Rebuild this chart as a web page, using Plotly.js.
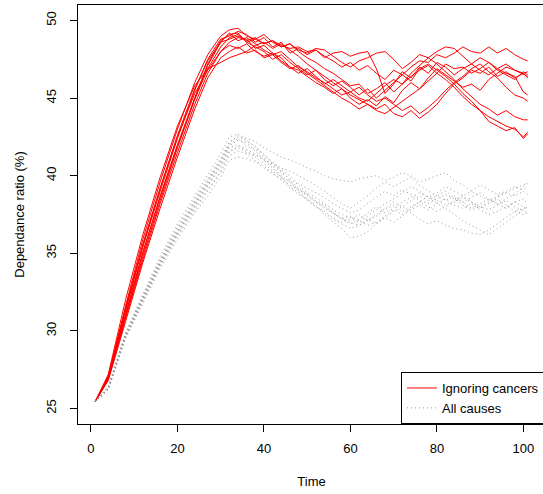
<!DOCTYPE html>
<html><head><meta charset="utf-8">
<script src="https://cdn.plot.ly/plotly-3.0.1.min.js"></script>
<style>html,body{margin:0;padding:0;overflow:hidden;background:#fff}#chart{width:545px;height:494px}</style>
</head><body><div id="chart"></div>
<script>
const time = [1,4,8,12,16,20,24,27,30,32,34,36,38,40,42,44,46,48,50,52,54,56,58,60,62,64,66,68,70,72,74,76,78,80,82,84,86,88,90,92,94,96,98,100,101];

// Ignoring cancers (red, solid)
const ignoring1 = [25.45,27.0,31.6,35.9,39.6,43.0,46.0,47.8,49.0, 49.4,49.5,49.0,48.8,49.1,48.6,48.3,48.5,48.0,47.6,47.3,46.9,46.6,46.2,45.8,45.9,45.3,45.6,46.0,45.4,45.9,46.4,46.8,47.1,46.6,47.2,46.9,47.0,46.6,46.9,47.3,46.8,46.5,46.2,46.7,46.5];
const ignoring2 = [25.45,27.1,31.4,35.5,39.2,42.6,45.6,47.4,48.6, 48.8,49.0,48.7,48.9,48.5,48.7,48.4,48.2,48.3,48.0,48.1,47.7,47.4,47.0,47.3,46.8,47.1,46.6,46.2,46.8,46.5,47.0,47.4,47.3,47.8,47.6,47.9,48.3,48.0,47.9,48.3,47.9,48.2,47.8,47.5,47.4];
const ignoring3 = [25.45,27.2,32.0,36.2,39.9,43.2,45.8,46.9,47.3, 47.6,47.8,48.0,48.4,48.6,48.2,48.5,48.1,47.7,47.2,46.8,46.4,46.0,45.6,45.2,44.9,44.6,44.3,44.6,44.0,43.8,44.2,43.7,44.1,44.6,45.3,45.9,46.3,46.8,46.6,47.0,46.4,46.7,46.3,46.6,46.7];
const ignoring4 = [25.45,26.9,31.0,35.0,38.7,42.0,45.0,47.2,48.7, 49.1,49.2,48.6,48.3,48.0,47.5,47.8,47.3,46.9,46.5,46.8,46.2,45.8,46.1,45.7,45.2,45.6,45.0,45.5,46.0,46.5,46.1,46.9,47.2,46.8,46.4,45.9,45.3,44.8,44.2,43.8,43.5,43.2,43.0,42.5,42.8];
const ignoring5 = [25.45,27.0,31.3,35.4,39.0,42.4,45.5,47.5,48.8, 49.0,49.3,49.1,48.6,48.9,48.3,48.6,47.9,48.2,47.8,48.1,47.6,47.9,48.0,47.7,47.9,48.0,46.9,45.3,45.9,46.7,46.3,47.0,46.6,47.3,47.0,46.5,46.9,47.2,46.8,46.5,46.9,46.6,46.4,45.4,45.2];
const ignoring6 = [25.45,26.9,30.8,34.6,38.2,41.5,44.6,46.6,48.0, 48.6,48.9,48.8,48.2,48.4,47.9,47.6,47.0,46.8,46.4,46.0,45.7,45.3,45.6,45.0,44.6,44.9,44.5,45.1,44.7,45.5,46.0,45.6,46.3,46.9,46.5,46.1,45.7,45.9,45.5,46.2,46.6,47.0,46.8,46.6,46.3];
const ignoring7 = [25.45,27.0,31.1,35.1,38.6,41.9,45.0,47.1,48.6, 49.2,48.7,48.9,48.5,48.1,47.8,48.0,47.5,47.0,46.7,46.3,46.0,45.6,45.2,45.4,45.0,44.8,45.3,45.8,46.2,45.9,46.6,47.1,47.6,47.2,46.7,46.2,45.6,45.1,44.6,44.3,43.9,44.2,43.8,43.6,43.6];
const ignoring8 = [25.45,26.9,30.9,34.8,38.4,41.8,44.9,46.9,48.3, 48.9,49.1,48.6,48.8,48.5,48.7,48.3,48.5,48.1,47.9,48.2,48.1,47.7,47.3,47.0,47.4,47.6,47.9,48.0,47.5,46.9,47.3,47.8,47.6,48.0,48.3,48.2,47.7,47.2,47.6,47.3,46.9,47.2,46.8,46.5,46.4];
const ignoring9 = [25.45,27.1,31.5,35.6,39.2,42.5,45.3,46.8,48.0, 48.4,48.2,48.5,48.0,47.7,47.9,47.4,47.0,46.6,46.9,46.4,45.9,46.2,45.8,45.4,45.7,45.2,44.8,45.0,44.6,44.2,44.5,44.0,44.4,44.9,45.5,46.0,46.4,46.9,47.2,46.7,46.3,45.7,45.2,45.0,44.8];
const ignoring10 = [25.45,26.8,30.6,34.4,37.9,41.2,44.3,46.3,47.6, 48.0,48.3,47.9,48.1,47.6,47.8,47.3,46.9,47.1,46.6,46.2,45.8,45.4,45.0,44.7,44.3,44.6,44.2,44.0,44.4,44.8,45.2,45.6,46.1,46.6,46.2,45.7,45.1,44.6,44.2,43.5,43.2,42.9,43.1,42.4,42.7];

// All causes (grey, dotted)
const all1 = [25.45,26.4,29.9,32.4,34.8,36.9,38.7,40.0,41.4, 42.5,42.7,42.4,42.2,41.8,41.5,41.2,41.0,40.8,40.5,40.3,40.0,39.8,39.7,39.6,39.8,39.9,40.0,39.7,39.9,40.2,40.0,39.6,39.8,40.0,40.2,39.7,39.4,39.0,38.7,38.4,38.7,38.9,39.2,39.4,39.5];
const all2 = [25.45,26.3,29.8,32.3,34.6,36.7,38.5,39.8,41.1, 42.2,42.5,42.2,41.9,41.3,40.9,40.4,40.0,39.5,39.2,38.9,38.6,38.2,37.9,37.6,37.8,38.2,38.6,39.0,38.7,39.1,38.8,38.4,38.2,38.5,38.8,38.5,38.1,37.8,38.0,38.3,38.6,38.9,38.7,39.0,38.8];
const all3 = [25.45,26.3,29.7,32.1,34.4,36.4,38.2,39.5,40.8, 41.9,42.3,42.1,41.6,41.0,40.5,39.9,39.6,39.1,38.8,38.4,38.1,37.6,37.3,37.0,36.8,37.1,37.5,37.9,38.3,38.0,38.4,38.7,38.4,38.7,39.0,38.6,38.3,38.6,38.9,38.5,38.2,38.5,38.8,39.3,39.6];
const all4 = [25.45,26.2,29.6,32.0,34.3,36.3,38.0,39.3,40.6, 41.8,42.0,41.7,41.4,41.1,40.6,40.0,39.6,39.0,38.5,38.0,37.5,37.0,36.6,36.0,36.1,36.4,36.9,37.3,37.0,37.4,37.8,38.1,37.8,38.2,38.5,38.1,37.9,38.2,37.8,37.5,37.7,38.0,38.3,38.0,37.8];
const all5 = [25.45,26.3,29.6,32.0,34.2,36.2,37.9,39.1,40.3, 41.5,41.9,41.6,41.2,40.8,40.3,39.9,39.3,38.9,38.4,38.0,37.7,37.3,37.0,37.2,37.5,37.1,37.4,37.8,38.1,37.7,38.0,38.3,38.7,38.4,38.1,38.4,38.7,38.3,38.0,37.8,38.1,38.4,38.0,37.7,37.6];
const all6 = [25.45,26.2,29.5,31.8,34.0,35.9,37.6,38.7,39.9, 41.0,41.2,41.1,40.9,40.5,40.1,39.8,39.4,39.1,38.7,38.3,38.0,37.6,37.2,36.9,37.2,37.6,38.0,37.6,37.9,38.3,38.6,38.9,38.6,38.2,37.9,37.5,37.1,36.8,36.5,36.2,36.6,37.0,37.4,37.8,38.0];
const all7 = [25.45,26.4,29.8,32.2,34.5,36.6,38.4,39.7,41.0, 42.0,42.4,41.9,41.7,41.2,40.7,40.2,39.8,39.4,38.9,38.6,38.2,37.8,37.5,37.3,37.0,37.4,37.8,38.2,38.5,38.9,39.3,39.0,38.6,38.9,39.3,39.0,38.7,39.0,39.4,39.1,38.8,39.0,39.3,39.1,39.3];
const all8 = [25.45,26.3,29.7,32.1,34.3,36.3,38.1,39.4,40.6, 41.6,41.8,41.5,41.3,41.0,40.8,40.5,40.3,40.0,39.7,39.4,39.0,38.6,38.2,37.9,38.3,38.7,39.2,39.6,39.3,39.6,39.9,39.4,39.0,38.7,38.4,38.7,38.3,37.9,38.2,38.5,38.2,37.9,38.3,38.5,38.2];
const all9 = [25.45,26.2,29.6,31.9,34.2,36.1,37.8,39.0,40.2, 41.3,41.6,41.4,41.0,40.6,40.2,39.7,39.2,38.8,38.5,38.1,37.6,37.2,36.9,36.6,36.8,37.2,36.9,37.3,37.7,38.0,37.6,37.2,36.9,37.1,36.8,36.6,36.5,36.3,36.2,36.5,36.9,37.3,37.7,37.9,38.0];
const all10 = [25.45,26.3,29.8,32.2,34.5,36.5,38.3,39.6,40.9, 42.1,42.6,42.3,41.8,41.4,40.8,40.3,39.7,39.2,38.8,38.3,37.9,37.6,37.2,37.4,37.1,36.8,37.0,37.4,37.8,37.5,37.9,38.3,38.0,37.7,38.0,38.3,38.6,38.3,37.9,38.2,38.5,38.1,37.7,37.5,37.6];

const xTicks = [0,20,40,60,80,100];
const yTicks = [25,30,35,40,45,50];
const legendNames = ["Ignoring cancers", "All causes"];

const redSeries = [ignoring1,ignoring2,ignoring3,ignoring4,ignoring5,ignoring6,ignoring7,ignoring8,ignoring9,ignoring10];
const greySeries = [all1,all2,all3,all4,all5,all6,all7,all8,all9,all10];

const traces = [];
redSeries.forEach((ys,i)=>traces.push({x:time,y:ys,type:'scatter',mode:'lines',
  name:legendNames[0],legendgroup:'red',showlegend:i===0,
  line:{color:'#ff0000',width:1}}));
greySeries.forEach((ys,i)=>traces.push({x:time,y:ys,type:'scatter',mode:'lines',
  name:legendNames[1],legendgroup:'grey',showlegend:i===0,
  line:{color:'#999999',width:1,dash:'1px,3px'}}));

const font = {family:'"Liberation Sans", Arial, sans-serif',size:13,color:'#000'};
const layout = {
  width:545,height:494,
  margin:{l:78,r:0,t:5,b:70},
  paper_bgcolor:'#fff',plot_bgcolor:'#fff',
  font:font,
  showlegend:true,
  legend:{x:1,xanchor:'right',y:0,yanchor:'bottom',bordercolor:'#000',borderwidth:1,
    bgcolor:'#fff',font:font,tracegroupgap:0},
  xaxis:{range:[-3,105],tickvals:xTicks,ticktext:xTicks.map(String),ticks:'outside',ticklen:7,
    tickcolor:'#000',showline:true,mirror:true,linecolor:'#000',linewidth:1,
    showgrid:false,zeroline:false,tickfont:font,ticklabelstandoff:5,
    title:{text:'Time',font:font,standoff:22}},
  yaxis:{range:[24,51],tickvals:yTicks,ticktext:yTicks.map(String),ticks:'outside',ticklen:7,
    tickcolor:'#000',showline:true,mirror:true,linecolor:'#000',linewidth:1,
    showgrid:false,zeroline:false,tickfont:font,tickangle:-90,ticklabelstandoff:9,
    title:{text:'Dependance ratio (%)',font:font,standoff:16}}
};
Plotly.newPlot('chart',traces,layout,{staticPlot:true});
</script></body></html>
